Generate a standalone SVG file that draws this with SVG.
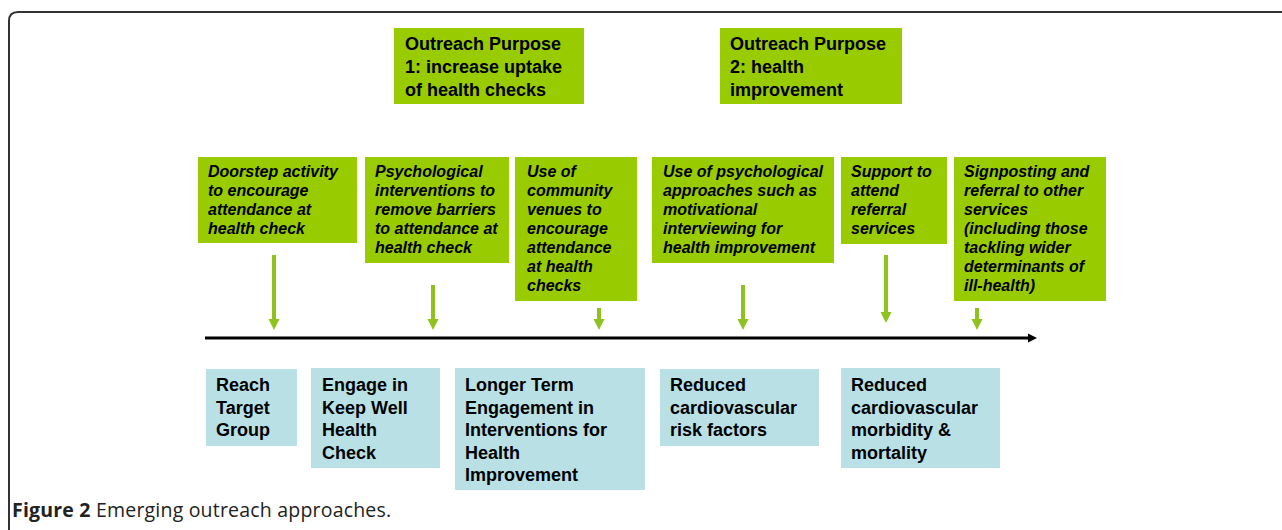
<svg xmlns="http://www.w3.org/2000/svg" width="1282" height="530" viewBox="0 0 1282 530">
<defs>
<style>
.g{fill:#99cc00}
.b{fill:#b9e0e4}
.pt{font-family:"Liberation Sans",Arial,sans-serif;font-weight:bold;font-size:18px;fill:#000}
.it{font-family:"Liberation Sans",Arial,sans-serif;font-weight:bold;font-style:italic;font-size:16px;fill:#000}
.bt{font-family:"Liberation Sans",Arial,sans-serif;font-weight:bold;font-size:18px;fill:#000}
.ga{stroke:#8dc21f;stroke-width:4;fill:none}
.cap{font-family:"Open Sans",sans-serif;font-size:19.5px;letter-spacing:0.2px;fill:#222}
</style>
<marker id="gh" markerUnits="userSpaceOnUse" markerWidth="12" markerHeight="12" viewBox="0 -6 11 12" refX="0" refY="0" orient="auto">
<path d="M0,-5.5 L11,0 L0,5.5 z" fill="#8dc21f"/>
</marker>
<marker id="bh" markerUnits="userSpaceOnUse" markerWidth="10" markerHeight="10" viewBox="0 -5 9 10" refX="0" refY="0" orient="auto">
<path d="M0,-4.5 L9,0 L0,4.5 z" fill="#000"/>
</marker>
</defs>
<rect width="1282" height="530" fill="#fff"/>
<path d="M9,540 L9,21 Q9,12 18,12 L1290,12" fill="none" stroke="#333" stroke-width="2"/>

<g id="purpose1">
<rect class="g" x="394" y="28" width="190" height="76"/>
<text class="pt" x="405" y="50">Outreach Purpose</text>
<text class="pt" x="405" y="73">1: increase uptake</text>
<text class="pt" x="405" y="96">of health checks</text>
</g>
<g id="purpose2">
<rect class="g" x="720" y="28" width="182" height="76"/>
<text class="pt" x="730" y="50">Outreach Purpose</text>
<text class="pt" x="730" y="73">2: health</text>
<text class="pt" x="730" y="96">improvement</text>
</g>

<g id="act1">
<rect class="g" x="198" y="157" width="159" height="86"/>
<text class="it" x="208" y="177">Doorstep activity</text>
<text class="it" x="208" y="196">to encourage</text>
<text class="it" x="208" y="215">attendance at</text>
<text class="it" x="208" y="234">health check</text>
</g>
<g id="act2">
<rect class="g" x="365" y="157" width="144" height="106"/>
<text class="it" x="375" y="177">Psychological</text>
<text class="it" x="375" y="196">interventions to</text>
<text class="it" x="375" y="215">remove barriers</text>
<text class="it" x="375" y="234">to attendance at</text>
<text class="it" x="375" y="253">health check</text>
</g>
<g id="act3">
<rect class="g" x="515" y="157" width="122" height="144"/>
<text class="it" x="527" y="177">Use of</text>
<text class="it" x="527" y="196">community</text>
<text class="it" x="527" y="215">venues to</text>
<text class="it" x="527" y="234">encourage</text>
<text class="it" x="527" y="253">attendance</text>
<text class="it" x="527" y="272">at health</text>
<text class="it" x="527" y="291">checks</text>
</g>
<g id="act4">
<rect class="g" x="652" y="157" width="182" height="106"/>
<text class="it" x="663" y="177">Use of psychological</text>
<text class="it" x="663" y="196">approaches such as</text>
<text class="it" x="663" y="215">motivational</text>
<text class="it" x="663" y="234">interviewing for</text>
<text class="it" x="663" y="253">health improvement</text>
</g>
<g id="act5">
<rect class="g" x="841" y="157" width="106" height="87"/>
<text class="it" x="851" y="177">Support to</text>
<text class="it" x="851" y="196">attend</text>
<text class="it" x="851" y="215">referral</text>
<text class="it" x="851" y="234">services</text>
</g>
<g id="act6">
<rect class="g" x="954" y="157" width="152" height="144"/>
<text class="it" x="964" y="177">Signposting and</text>
<text class="it" x="964" y="196">referral to other</text>
<text class="it" x="964" y="215">services</text>
<text class="it" x="964" y="234">(including those</text>
<text class="it" x="964" y="253">tackling wider</text>
<text class="it" x="964" y="272">determinants of</text>
<text class="it" x="964" y="291">ill-health)</text>
</g>

<g id="connectors">
<line class="ga" x1="274" y1="255" x2="274" y2="319" marker-end="url(#gh)"/>
<line class="ga" x1="433" y1="285" x2="433" y2="319" marker-end="url(#gh)"/>
<line class="ga" x1="599" y1="308" x2="599" y2="319" marker-end="url(#gh)"/>
<line class="ga" x1="743" y1="285" x2="743" y2="319" marker-end="url(#gh)"/>
<line class="ga" x1="886" y1="255" x2="886" y2="312" marker-end="url(#gh)"/>
<line class="ga" x1="977" y1="308" x2="977" y2="319" marker-end="url(#gh)"/>
<line x1="205" y1="338" x2="1028" y2="338" stroke="#000" stroke-width="3" marker-end="url(#bh)"/>
</g>

<g id="out1">
<rect class="b" x="206" y="369" width="91" height="77"/>
<text class="bt" x="216" y="391">Reach</text>
<text class="bt" x="216" y="413.5">Target</text>
<text class="bt" x="216" y="436">Group</text>
</g>
<g id="out2">
<rect class="b" x="311" y="368" width="129" height="100"/>
<text class="bt" x="322" y="391">Engage in</text>
<text class="bt" x="322" y="413.5">Keep Well</text>
<text class="bt" x="322" y="436">Health</text>
<text class="bt" x="322" y="458.5">Check</text>
</g>
<g id="out3">
<rect class="b" x="455" y="368" width="190" height="122"/>
<text class="bt" x="465" y="391">Longer Term</text>
<text class="bt" x="465" y="413.5">Engagement in</text>
<text class="bt" x="465" y="436">Interventions for</text>
<text class="bt" x="465" y="458.5">Health</text>
<text class="bt" x="465" y="481">Improvement</text>
</g>
<g id="out4">
<rect class="b" x="660" y="369" width="159" height="77"/>
<text class="bt" x="670" y="391">Reduced</text>
<text class="bt" x="670" y="413.5">cardiovascular</text>
<text class="bt" x="670" y="436">risk factors</text>
</g>
<g id="out5">
<rect class="b" x="841" y="368" width="159" height="100"/>
<text class="bt" x="851" y="391">Reduced</text>
<text class="bt" x="851" y="413.5">cardiovascular</text>
<text class="bt" x="851" y="436">morbidity &amp;</text>
<text class="bt" x="851" y="458.5">mortality</text>
</g>

<text class="cap" x="12" y="517"><tspan font-weight="bold">Figure 2</tspan> Emerging outreach approaches.</text>
</svg>
